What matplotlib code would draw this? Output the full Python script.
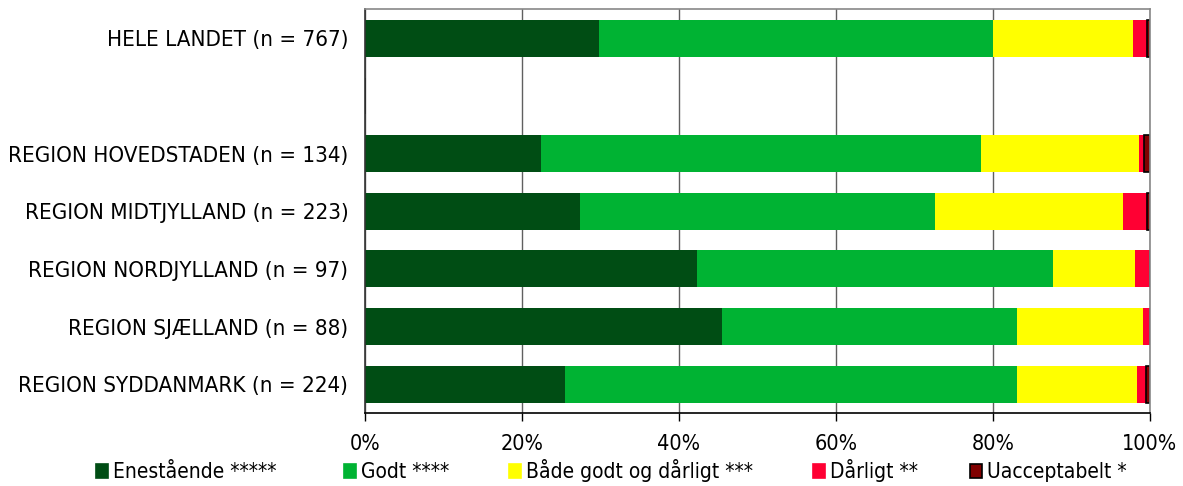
import matplotlib
matplotlib.use('Agg')
import matplotlib.pyplot as plt
from matplotlib.patches import Rectangle
import numpy as np

plt.rcParams['font.family'] = ['DejaVu Sans']
plt.rcParams['font.stretch'] = 'condensed'

regions = ['HELE LANDET (n = 767)', '',
           'REGION HOVEDSTADEN (n = 134)', 'REGION MIDTJYLLAND (n = 223)',
           'REGION NORDJYLLAND (n = 97)', 'REGION SJÆLLAND (n = 88)',
           'REGION SYDDANMARK (n = 224)']

# andele i procent, raekke 2 er tom (mellemrum)
enestaaende = [29.8, 0, 22.4, 27.4, 42.3, 45.5, 25.5]
godt = [50.2, 0, 56.1, 45.2, 45.3, 37.6, 57.6]
baade = [17.8, 0, 20.1, 24.0, 10.5, 16.0, 15.2]
daarligt = [1.8, 0, 0.7, 3.0, 1.9, 0.9, 1.2]
uacceptabelt = [0.4, 0, 0.7, 0.4, 0.0, 0.0, 0.5]

series = [
    ('Enestående *****', enestaaende, '#004d14'),
    ('Godt ****', godt, '#00b333'),
    ('Både godt og dårligt ***', baade, '#ffff00'),
    ('Dårligt **', daarligt, '#ff0033'),
    ('Uacceptabelt *', uacceptabelt, '#800000'),
]
legend_x = [96, 344, 509, 813, 970]  # pixels

W, H = 1183, 486
fig = plt.figure(figsize=(W / 100, H / 100), dpi=100)
ax = fig.add_axes([0.3085, 0.150, 0.6636, 0.8305])

y = np.arange(len(regions))
left = np.zeros(len(regions))
for name, vals, col in series:
    vals = np.array(vals)
    if name.startswith('Uacceptabelt'):
        ax.barh(y, vals, left=left, height=0.64, color=col,
                edgecolor='black', linewidth=1.2, label=name)
    else:
        ax.barh(y, vals, left=left, height=0.64, color=col,
                linewidth=0, label=name)
    left += vals

ax.set_xlim(0, 100)
ax.set_ylim(6.5, -0.5)
ax.set_yticks(y)
ax.set_yticklabels(regions, fontsize=16)
ax.tick_params(axis='y', length=0, pad=12)
ax.set_xticks(range(0, 101, 20))
ax.set_xticklabels([f'{v}%' for v in range(0, 101, 20)], fontsize=15.5)
ax.tick_params(axis='x', length=6, width=1, pad=9, direction='out')
ax.xaxis.grid(True, color='#606060', linewidth=1)
ax.set_axisbelow(True)
ax.spines['top'].set_color('#888888')
ax.spines['right'].set_color('#888888')
ax.spines['left'].set_color('#333333')
ax.spines['bottom'].set_color('black')
for s in ax.spines.values():
    s.set_linewidth(1.2)

# forklaring nederst
for (name, vals, col), lx in zip(series, legend_x):
    ec = 'black' if name.startswith('Uacceptabelt') else col
    fig.add_artist(Rectangle((lx / W, (H - 478) / H), 12 / W, 14 / H,
                             transform=fig.transFigure, facecolor=col,
                             edgecolor=ec, linewidth=1.2))
    fig.text((lx + 17) / W, (H - 478) / H, name, fontsize=15,
             va='baseline', ha='left')

fig.savefig('out.png', dpi=100)
